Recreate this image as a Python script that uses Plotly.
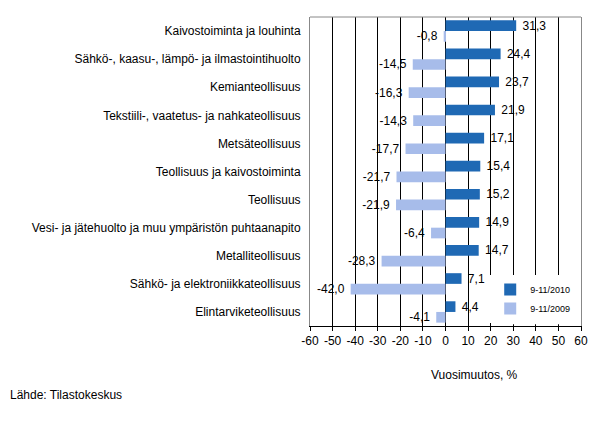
import plotly.graph_objects as go

categories = [
    "Kaivostoiminta ja louhinta",
    "Sähkö-, kaasu-, lämpö- ja ilmastointihuolto",
    "Kemianteollisuus",
    "Tekstiili-, vaatetus- ja nahkateollisuus",
    "Metsäteollisuus",
    "Teollisuus ja kaivostoiminta",
    "Teollisuus",
    "Vesi- ja jätehuolto ja muu ympäristön puhtaanapito",
    "Metalliteollisuus",
    "Sähkö- ja elektroniikkateollisuus",
    "Elintarviketeollisuus",
]
values_2010 = [31.3, 24.4, 23.7, 21.9, 17.1, 15.4, 15.2, 14.9, 14.7, 7.1, 4.4]
values_2009 = [-0.8, -14.5, -16.3, -14.3, -17.7, -21.7, -21.9, -6.4, -28.3, -42.0, -4.1]
series_names = ["9-11/2010", "9-11/2009"]
tick_values = [-60, -50, -40, -30, -20, -10, 0, 10, 20, 30, 40, 50, 60]
tick_labels = ["-60", "-50", "-40", "-30", "-20", "-10", "0", "10", "20", "30", "40", "50", "60"]

NB = "\u00a0"

def fmt(v):
    s = f"{v:.1f}".replace(".", ",")
    return (s + NB) if v < 0 else (NB + s)

FONT = "Liberation Sans, Arial, sans-serif"

fig = go.Figure()
fig.add_trace(go.Bar(
    y=categories, x=values_2010, orientation="h", name=series_names[0],
    marker=dict(color="#1F69B4", line=dict(width=0)),
    text=[fmt(v) for v in values_2010], textposition="outside",
    constraintext="none",
    textfont=dict(size=12, color="black", family=FONT), cliponaxis=False,
))
fig.add_trace(go.Bar(
    y=categories, x=values_2009, orientation="h", name=series_names[1],
    marker=dict(color="#A7BCEA", line=dict(width=0)),
    text=[fmt(v) for v in values_2009], textposition="outside",
    constraintext="none",
    textfont=dict(size=12, color="black", family=FONT), cliponaxis=False,
))

L, R, T, B = 302, 25, 9, 103
PW = 598 - L - R
PH = 421 - T - B

fig.update_layout(
    width=598, height=421,
    margin=dict(l=L, r=R, t=T, b=B),
    paper_bgcolor="white", plot_bgcolor="white",
    barmode="group", bargap=0.24, bargroupgap=0.0,
    font=dict(family=FONT, size=12, color="black"),
    showlegend=True,
    legend=dict(
        x=0.665, y=0.165, xanchor="left", yanchor="top",
        bgcolor="white", font=dict(size=9, family=FONT),
        itemwidth=30,
    ),
    xaxis=dict(
        range=[-60, 60], tickvals=tick_values, ticktext=tick_labels,
        showgrid=True, gridcolor="black", gridwidth=1,
        zeroline=True, zerolinecolor="black", zerolinewidth=1,
        showline=True, linecolor="black", linewidth=1,
        ticks="outside", ticklen=4, tickcolor="black",
        tickfont=dict(size=12, family=FONT),
    ),
    yaxis=dict(
        categoryorder="array", categoryarray=categories, autorange="reversed",
        showline=True, linecolor="#888888", linewidth=1, mirror=True,
        showgrid=False, ticks="", ticklabelstandoff=6,
        tickfont=dict(size=12, family=FONT),
    ),
    shapes=[
        dict(type="line", xref="paper", yref="paper", x0=0, x1=1, y0=1, y1=1,
             line=dict(color="#888888", width=1)),
        # white legend area box hiding gridlines behind the legend
        dict(type="rect", xref="x", yref="paper", x0=27, x1=59.4, y0=0.006, y1=0.155,
             fillcolor="white", line=dict(width=0), layer="above"),
    ],
    annotations=[
        dict(text="Vuosimuutos, %", xref="paper", yref="paper",
             x=(466 - L) / PW, y=-49 / PH,
             xanchor="center", yanchor="middle", showarrow=False,
             font=dict(size=12, family=FONT)),
        dict(text="Lähde: Tilastokeskus", xref="paper", yref="paper",
             x=-L / PW, y=-69 / PH, xanchor="left", yanchor="middle",
             showarrow=False, font=dict(size=12, family=FONT)),
    ],
)

fig.write_html("out.html")
